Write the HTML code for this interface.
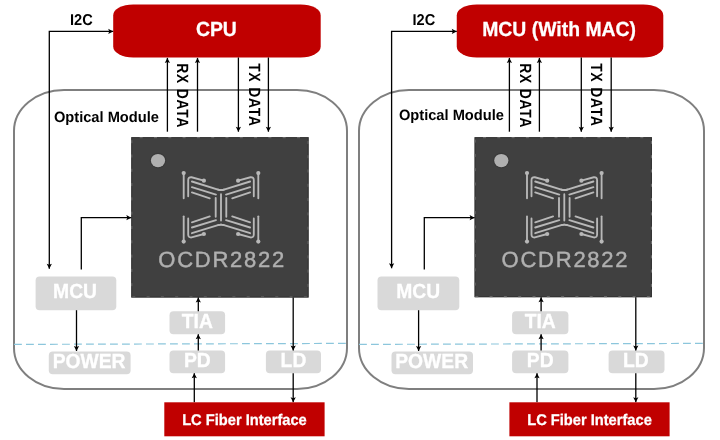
<!DOCTYPE html>
<html><head><meta charset="utf-8"><style>
html,body{margin:0;padding:0;background:#fff;}
body{width:720px;height:440px;overflow:hidden;position:relative;}
svg{position:absolute;left:0;top:0;font-family:"Liberation Sans", sans-serif;will-change:transform;text-rendering:geometricPrecision;}
</style></head><body>
<svg width="720" height="440" viewBox="0 0 720 440">
<rect x="14.0" y="90.0" width="333.00" height="299.00" rx="50" ry="41" fill="none" stroke="#7F7F7F" stroke-width="2"/>
<path d="M14.0,344.4 L345.8,343.4" stroke="#8CC6DC" stroke-width="1.2" stroke-dasharray="7.85,4.15" fill="none"/>
<rect x="113.2" y="4.4" width="207.50" height="53.1" rx="20" ry="11" fill="#C00000"/>
<text transform="translate(216.40,35.8) scale(1,1.055)" font-size="19.4" fill="#fff" text-anchor="middle" font-weight="bold" stroke="#fff" stroke-width="0.25">CPU</text>
<text transform="translate(70.0,24.9) scale(1,1.07)" font-size="14.6" fill="#000" text-anchor="start" font-weight="bold" >I2C</text>
<path d="M49.30,268.70 L49.30,31.40 L113.20,31.40" fill="none" stroke="#000" stroke-width="1.3"/><path d="M113.20,31.40 L108.20,34.00 L109.20,31.40 L108.20,28.80 Z" fill="#000"/><path d="M49.30,268.70 L46.70,263.70 L49.30,264.70 L51.90,263.70 Z" fill="#000"/>
<path d="M167.40,131.70 L167.40,57.90" fill="none" stroke="#000" stroke-width="1.3"/><path d="M167.40,57.90 L170.00,62.90 L167.40,61.90 L164.80,62.90 Z" fill="#000"/>
<path d="M197.50,131.70 L197.50,57.90" fill="none" stroke="#000" stroke-width="1.3"/><path d="M197.50,57.90 L200.10,62.90 L197.50,61.90 L194.90,62.90 Z" fill="#000"/>
<path d="M238.40,57.50 L238.40,131.70" fill="none" stroke="#000" stroke-width="1.3"/><path d="M238.40,131.70 L235.80,126.70 L238.40,127.70 L241.00,126.70 Z" fill="#000"/>
<path d="M268.40,57.50 L268.40,131.70" fill="none" stroke="#000" stroke-width="1.3"/><path d="M268.40,131.70 L265.80,126.70 L268.40,127.70 L271.00,126.70 Z" fill="#000"/>
<text x="0" y="0" font-size="16.3" fill="#000" text-anchor="start" font-weight="bold" transform="translate(182.10,63.3) rotate(90) scale(0.85,1)" dominant-baseline="central" letter-spacing="0.95">RX DATA</text>
<text x="0" y="0" font-size="16.3" fill="#000" text-anchor="start" font-weight="bold" transform="translate(253.70,63.3) rotate(90) scale(0.85,1)" dominant-baseline="central" letter-spacing="0.95">TX DATA</text>
<text transform="translate(53.9,121.7) scale(1,1.02)" font-size="14.67" fill="#000" text-anchor="start" font-weight="bold" >Optical Module</text>
<rect x="131.3" y="137.2" width="177.30" height="160.30" fill="#404040"/>
<rect x="131.8" y="137.7" width="176.30" height="159.30" fill="none" stroke="#333" stroke-width="1"/>
<rect x="131.8" y="137.7" width="176.30" height="159.30" fill="none" stroke="#707070" stroke-width="1" stroke-dasharray="3,11.3" stroke-dashoffset="6.4"/>
<ellipse cx="158.0" cy="160.6" rx="8.2" ry="7.8" fill="#393939"/>
<ellipse cx="158.0" cy="160.6" rx="7.1" ry="6.7" fill="#B0B0B0"/>
<g transform="translate(221.0,207.35)" fill="none" stroke="#B8B8B8" stroke-width="1.85" stroke-linecap="round"><g transform="scale(1,1)"><path d="M-37.3,-34.25 V-9.0" /><circle cx="-37.3" cy="-34.25" r="2.1" fill="#B8B8B8" stroke="none"/><path d="M-32.8,-11.15 V-27.2 Q-32.8,-30.4 -29.4,-30.1 L-17.1,-26.65" /><circle cx="-17.1" cy="-26.65" r="2.1" fill="#B8B8B8" stroke="none"/><path d="M-29.1,-25.85 L-3,-17.8 Q0,-16.8 3,-17.8" /><path d="M-29.1,-20.15 L-5,-12.75" /><path d="M-29.1,-14.95 L-11.2,-9.05" /></g><g transform="scale(-1,1)"><path d="M-37.3,-34.25 V-9.0" /><circle cx="-37.3" cy="-34.25" r="2.1" fill="#B8B8B8" stroke="none"/><path d="M-32.8,-11.15 V-27.2 Q-32.8,-30.4 -29.4,-30.1 L-17.1,-26.65" /><circle cx="-17.1" cy="-26.65" r="2.1" fill="#B8B8B8" stroke="none"/><path d="M-29.1,-25.85 L-3,-17.8 Q0,-16.8 3,-17.8" /><path d="M-29.1,-20.15 L-5,-12.75" /><path d="M-29.1,-14.95 L-11.2,-9.05" /></g><g transform="scale(1,-1)"><path d="M-37.3,-34.25 V-9.0" /><circle cx="-37.3" cy="-34.25" r="2.1" fill="#B8B8B8" stroke="none"/><path d="M-32.8,-11.15 V-27.2 Q-32.8,-30.4 -29.4,-30.1 L-17.1,-26.65" /><circle cx="-17.1" cy="-26.65" r="2.1" fill="#B8B8B8" stroke="none"/><path d="M-29.1,-25.85 L-3,-17.8 Q0,-16.8 3,-17.8" /><path d="M-29.1,-20.15 L-5,-12.75" /><path d="M-29.1,-14.95 L-11.2,-9.05" /></g><g transform="scale(-1,-1)"><path d="M-37.3,-34.25 V-9.0" /><circle cx="-37.3" cy="-34.25" r="2.1" fill="#B8B8B8" stroke="none"/><path d="M-32.8,-11.15 V-27.2 Q-32.8,-30.4 -29.4,-30.1 L-17.1,-26.65" /><circle cx="-17.1" cy="-26.65" r="2.1" fill="#B8B8B8" stroke="none"/><path d="M-29.1,-25.85 L-3,-17.8 Q0,-16.8 3,-17.8" /><path d="M-29.1,-20.15 L-5,-12.75" /><path d="M-29.1,-14.95 L-11.2,-9.05" /></g><path d="M-5.3,-9.5 V9.5 M0,-13.2 V13.2 M5.3,-9.5 V9.5"/></g>
<text transform="translate(158.30,267.4) scale(1,1.0)" font-size="22" fill="#B0B0B0" text-anchor="start" font-weight="normal" letter-spacing="1.75" stroke="#B0B0B0" stroke-width="0.45">OCDR2822</text>
<rect x="35.6" y="276.4" width="80.70" height="33.80" rx="4" ry="4" fill="#D9D9D9"/><text transform="translate(75.05,298.20) scale(1,1.055)" font-size="19.3" fill="#fff" text-anchor="middle" font-weight="bold" stroke="#fff" stroke-width="0.3">MCU</text>
<path d="M81.30,269.50 L81.30,217.70 L131.30,217.70" fill="none" stroke="#000" stroke-width="1.3"/><path d="M131.30,217.70 L126.30,220.30 L127.30,217.70 L126.30,215.10 Z" fill="#000"/>
<path d="M76.50,310.20 L76.50,351.00" fill="none" stroke="#000" stroke-width="1.3"/><path d="M76.50,351.00 L73.90,346.00 L76.50,347.00 L79.10,346.00 Z" fill="#000"/>
<rect x="48.8" y="351.5" width="81.80" height="22.80" rx="4" ry="4" fill="#D9D9D9"/><text transform="translate(89.10,367.90) scale(1,1.055)" font-size="19.3" fill="#fff" text-anchor="middle" font-weight="bold" stroke="#fff" stroke-width="0.3">POWER</text>
<rect x="169.5" y="311.2" width="55.60" height="23.00" rx="4" ry="4" fill="#D9D9D9"/><text transform="translate(197.30,328.20) scale(1,1.055)" font-size="19.3" fill="#fff" text-anchor="middle" font-weight="bold" stroke="#fff" stroke-width="0.3">TIA</text>
<rect x="169.5" y="350.4" width="55.60" height="22.90" rx="4" ry="4" fill="#D9D9D9"/><text transform="translate(197.30,367.40) scale(1,1.055)" font-size="19.3" fill="#fff" text-anchor="middle" font-weight="bold" stroke="#fff" stroke-width="0.3">PD</text>
<rect x="265.9" y="350.4" width="55.10" height="22.90" rx="4" ry="4" fill="#D9D9D9"/><text transform="translate(293.45,367.40) scale(1,1.055)" font-size="19.3" fill="#fff" text-anchor="middle" font-weight="bold" stroke="#fff" stroke-width="0.3">LD</text>
<path d="M198.30,311.20 L198.30,297.50" fill="none" stroke="#000" stroke-width="1.3"/><path d="M198.30,297.50 L200.90,302.50 L198.30,301.50 L195.70,302.50 Z" fill="#000"/>
<path d="M198.30,350.40 L198.30,334.20" fill="none" stroke="#000" stroke-width="1.3"/><path d="M198.30,334.20 L200.90,339.20 L198.30,338.20 L195.70,339.20 Z" fill="#000"/>
<path d="M194.30,402.30 L194.30,373.30" fill="none" stroke="#000" stroke-width="1.3"/><path d="M194.30,373.30 L196.90,378.30 L194.30,377.30 L191.70,378.30 Z" fill="#000"/>
<path d="M293.20,297.50 L293.20,350.40" fill="none" stroke="#000" stroke-width="1.3"/><path d="M293.20,350.40 L290.60,345.40 L293.20,346.40 L295.80,345.40 Z" fill="#000"/>
<path d="M293.20,373.30 L293.20,402.30" fill="none" stroke="#000" stroke-width="1.3"/><path d="M293.20,402.30 L290.60,397.30 L293.20,398.30 L295.80,397.30 Z" fill="#000"/>
<rect x="164.3" y="402.3" width="160.30" height="34.0" fill="#C00000"/>
<text transform="translate(244.45,424.5) scale(1,1.055)" font-size="14.67" fill="#fff" text-anchor="middle" font-weight="bold" stroke="#fff" stroke-width="0.25">LC Fiber Interface</text>
<rect x="359.0" y="90.0" width="345.00" height="299.00" rx="50" ry="41" fill="none" stroke="#7F7F7F" stroke-width="2"/>
<path d="M359.0,344.4 L702.8,343.4" stroke="#8CC6DC" stroke-width="1.2" stroke-dasharray="7.85,4.15" fill="none"/>
<rect x="456.75" y="4.4" width="206.55" height="53.1" rx="20" ry="11" fill="#C00000"/>
<text transform="translate(559.10,35.8) scale(1,1.055)" font-size="19.4" fill="#fff" text-anchor="middle" font-weight="bold" stroke="#fff" stroke-width="0.25">MCU (With MAC)</text>
<text transform="translate(412.5,24.9) scale(1,1.07)" font-size="14.6" fill="#000" text-anchor="start" font-weight="bold" >I2C</text>
<path d="M391.60,268.20 L391.60,31.40 L456.75,31.40" fill="none" stroke="#000" stroke-width="1.3"/><path d="M456.75,31.40 L451.75,34.00 L452.75,31.40 L451.75,28.80 Z" fill="#000"/><path d="M391.60,268.20 L389.00,263.20 L391.60,264.20 L394.20,263.20 Z" fill="#000"/>
<path d="M509.40,131.70 L509.40,57.90" fill="none" stroke="#000" stroke-width="1.3"/><path d="M509.40,57.90 L512.00,62.90 L509.40,61.90 L506.80,62.90 Z" fill="#000"/>
<path d="M539.40,131.70 L539.40,57.90" fill="none" stroke="#000" stroke-width="1.3"/><path d="M539.40,57.90 L542.00,62.90 L539.40,61.90 L536.80,62.90 Z" fill="#000"/>
<path d="M581.30,57.50 L581.30,131.70" fill="none" stroke="#000" stroke-width="1.3"/><path d="M581.30,131.70 L578.70,126.70 L581.30,127.70 L583.90,126.70 Z" fill="#000"/>
<path d="M611.20,57.50 L611.20,131.70" fill="none" stroke="#000" stroke-width="1.3"/><path d="M611.20,131.70 L608.60,126.70 L611.20,127.70 L613.80,126.70 Z" fill="#000"/>
<text x="0" y="0" font-size="16.3" fill="#000" text-anchor="start" font-weight="bold" transform="translate(524.60,63.3) rotate(90) scale(0.85,1)" dominant-baseline="central" letter-spacing="0.95">RX DATA</text>
<text x="0" y="0" font-size="16.3" fill="#000" text-anchor="start" font-weight="bold" transform="translate(595.70,63.3) rotate(90) scale(0.85,1)" dominant-baseline="central" letter-spacing="0.95">TX DATA</text>
<text transform="translate(398.9,120.1) scale(1,1.02)" font-size="14.67" fill="#000" text-anchor="start" font-weight="bold" >Optical Module</text>
<rect x="474.6" y="137.2" width="177.30" height="160.00" fill="#404040"/>
<rect x="475.1" y="137.7" width="176.30" height="159.00" fill="none" stroke="#333" stroke-width="1"/>
<rect x="475.1" y="137.7" width="176.30" height="159.00" fill="none" stroke="#707070" stroke-width="1" stroke-dasharray="3,11.3" stroke-dashoffset="6.4"/>
<ellipse cx="501.3" cy="160.6" rx="8.2" ry="7.8" fill="#393939"/>
<ellipse cx="501.3" cy="160.6" rx="7.1" ry="6.7" fill="#B0B0B0"/>
<g transform="translate(564.3000000000001,207.35)" fill="none" stroke="#B8B8B8" stroke-width="1.85" stroke-linecap="round"><g transform="scale(1,1)"><path d="M-37.3,-34.25 V-9.0" /><circle cx="-37.3" cy="-34.25" r="2.1" fill="#B8B8B8" stroke="none"/><path d="M-32.8,-11.15 V-27.2 Q-32.8,-30.4 -29.4,-30.1 L-17.1,-26.65" /><circle cx="-17.1" cy="-26.65" r="2.1" fill="#B8B8B8" stroke="none"/><path d="M-29.1,-25.85 L-3,-17.8 Q0,-16.8 3,-17.8" /><path d="M-29.1,-20.15 L-5,-12.75" /><path d="M-29.1,-14.95 L-11.2,-9.05" /></g><g transform="scale(-1,1)"><path d="M-37.3,-34.25 V-9.0" /><circle cx="-37.3" cy="-34.25" r="2.1" fill="#B8B8B8" stroke="none"/><path d="M-32.8,-11.15 V-27.2 Q-32.8,-30.4 -29.4,-30.1 L-17.1,-26.65" /><circle cx="-17.1" cy="-26.65" r="2.1" fill="#B8B8B8" stroke="none"/><path d="M-29.1,-25.85 L-3,-17.8 Q0,-16.8 3,-17.8" /><path d="M-29.1,-20.15 L-5,-12.75" /><path d="M-29.1,-14.95 L-11.2,-9.05" /></g><g transform="scale(1,-1)"><path d="M-37.3,-34.25 V-9.0" /><circle cx="-37.3" cy="-34.25" r="2.1" fill="#B8B8B8" stroke="none"/><path d="M-32.8,-11.15 V-27.2 Q-32.8,-30.4 -29.4,-30.1 L-17.1,-26.65" /><circle cx="-17.1" cy="-26.65" r="2.1" fill="#B8B8B8" stroke="none"/><path d="M-29.1,-25.85 L-3,-17.8 Q0,-16.8 3,-17.8" /><path d="M-29.1,-20.15 L-5,-12.75" /><path d="M-29.1,-14.95 L-11.2,-9.05" /></g><g transform="scale(-1,-1)"><path d="M-37.3,-34.25 V-9.0" /><circle cx="-37.3" cy="-34.25" r="2.1" fill="#B8B8B8" stroke="none"/><path d="M-32.8,-11.15 V-27.2 Q-32.8,-30.4 -29.4,-30.1 L-17.1,-26.65" /><circle cx="-17.1" cy="-26.65" r="2.1" fill="#B8B8B8" stroke="none"/><path d="M-29.1,-25.85 L-3,-17.8 Q0,-16.8 3,-17.8" /><path d="M-29.1,-20.15 L-5,-12.75" /><path d="M-29.1,-14.95 L-11.2,-9.05" /></g><path d="M-5.3,-9.5 V9.5 M0,-13.2 V13.2 M5.3,-9.5 V9.5"/></g>
<text transform="translate(501.60,267.4) scale(1,1.0)" font-size="22" fill="#B0B0B0" text-anchor="start" font-weight="normal" letter-spacing="1.75" stroke="#B0B0B0" stroke-width="0.45">OCDR2822</text>
<rect x="377.5" y="276.4" width="81.80" height="33.80" rx="4" ry="4" fill="#D9D9D9"/><text transform="translate(418.10,298.20) scale(1,1.055)" font-size="19.3" fill="#fff" text-anchor="middle" font-weight="bold" stroke="#fff" stroke-width="0.3">MCU</text>
<path d="M424.30,269.50 L424.30,217.70 L474.60,217.70" fill="none" stroke="#000" stroke-width="1.3"/><path d="M474.60,217.70 L469.60,220.30 L470.60,217.70 L469.60,215.10 Z" fill="#000"/>
<path d="M418.60,310.20 L418.60,351.00" fill="none" stroke="#000" stroke-width="1.3"/><path d="M418.60,351.00 L416.00,346.00 L418.60,347.00 L421.20,346.00 Z" fill="#000"/>
<rect x="391.5" y="351.5" width="81.50" height="22.80" rx="4" ry="4" fill="#D9D9D9"/><text transform="translate(431.65,367.90) scale(1,1.055)" font-size="19.3" fill="#fff" text-anchor="middle" font-weight="bold" stroke="#fff" stroke-width="0.3">POWER</text>
<rect x="512.1" y="311.2" width="56.30" height="23.00" rx="4" ry="4" fill="#D9D9D9"/><text transform="translate(540.25,328.20) scale(1,1.055)" font-size="19.3" fill="#fff" text-anchor="middle" font-weight="bold" stroke="#fff" stroke-width="0.3">TIA</text>
<rect x="512.1" y="350.4" width="56.30" height="22.90" rx="4" ry="4" fill="#D9D9D9"/><text transform="translate(540.25,367.40) scale(1,1.055)" font-size="19.3" fill="#fff" text-anchor="middle" font-weight="bold" stroke="#fff" stroke-width="0.3">PD</text>
<rect x="608.6" y="350.4" width="55.90" height="22.90" rx="4" ry="4" fill="#D9D9D9"/><text transform="translate(635.75,367.40) scale(1,1.055)" font-size="19.3" fill="#fff" text-anchor="middle" font-weight="bold" stroke="#fff" stroke-width="0.3">LD</text>
<path d="M541.10,311.20 L541.10,297.20" fill="none" stroke="#000" stroke-width="1.3"/><path d="M541.10,297.20 L543.70,302.20 L541.10,301.20 L538.50,302.20 Z" fill="#000"/>
<path d="M541.10,350.40 L541.10,334.20" fill="none" stroke="#000" stroke-width="1.3"/><path d="M541.10,334.20 L543.70,339.20 L541.10,338.20 L538.50,339.20 Z" fill="#000"/>
<path d="M537.00,402.30 L537.00,373.30" fill="none" stroke="#000" stroke-width="1.3"/><path d="M537.00,373.30 L539.60,378.30 L537.00,377.30 L534.40,378.30 Z" fill="#000"/>
<path d="M635.80,297.20 L635.80,350.40" fill="none" stroke="#000" stroke-width="1.3"/><path d="M635.80,350.40 L633.20,345.40 L635.80,346.40 L638.40,345.40 Z" fill="#000"/>
<path d="M635.80,373.30 L635.80,402.30" fill="none" stroke="#000" stroke-width="1.3"/><path d="M635.80,402.30 L633.20,397.30 L635.80,398.30 L638.40,397.30 Z" fill="#000"/>
<rect x="509.4" y="402.3" width="160.20" height="34.0" fill="#C00000"/>
<text transform="translate(589.50,424.5) scale(1,1.055)" font-size="14.67" fill="#fff" text-anchor="middle" font-weight="bold" stroke="#fff" stroke-width="0.25">LC Fiber Interface</text>
</svg></body></html>
